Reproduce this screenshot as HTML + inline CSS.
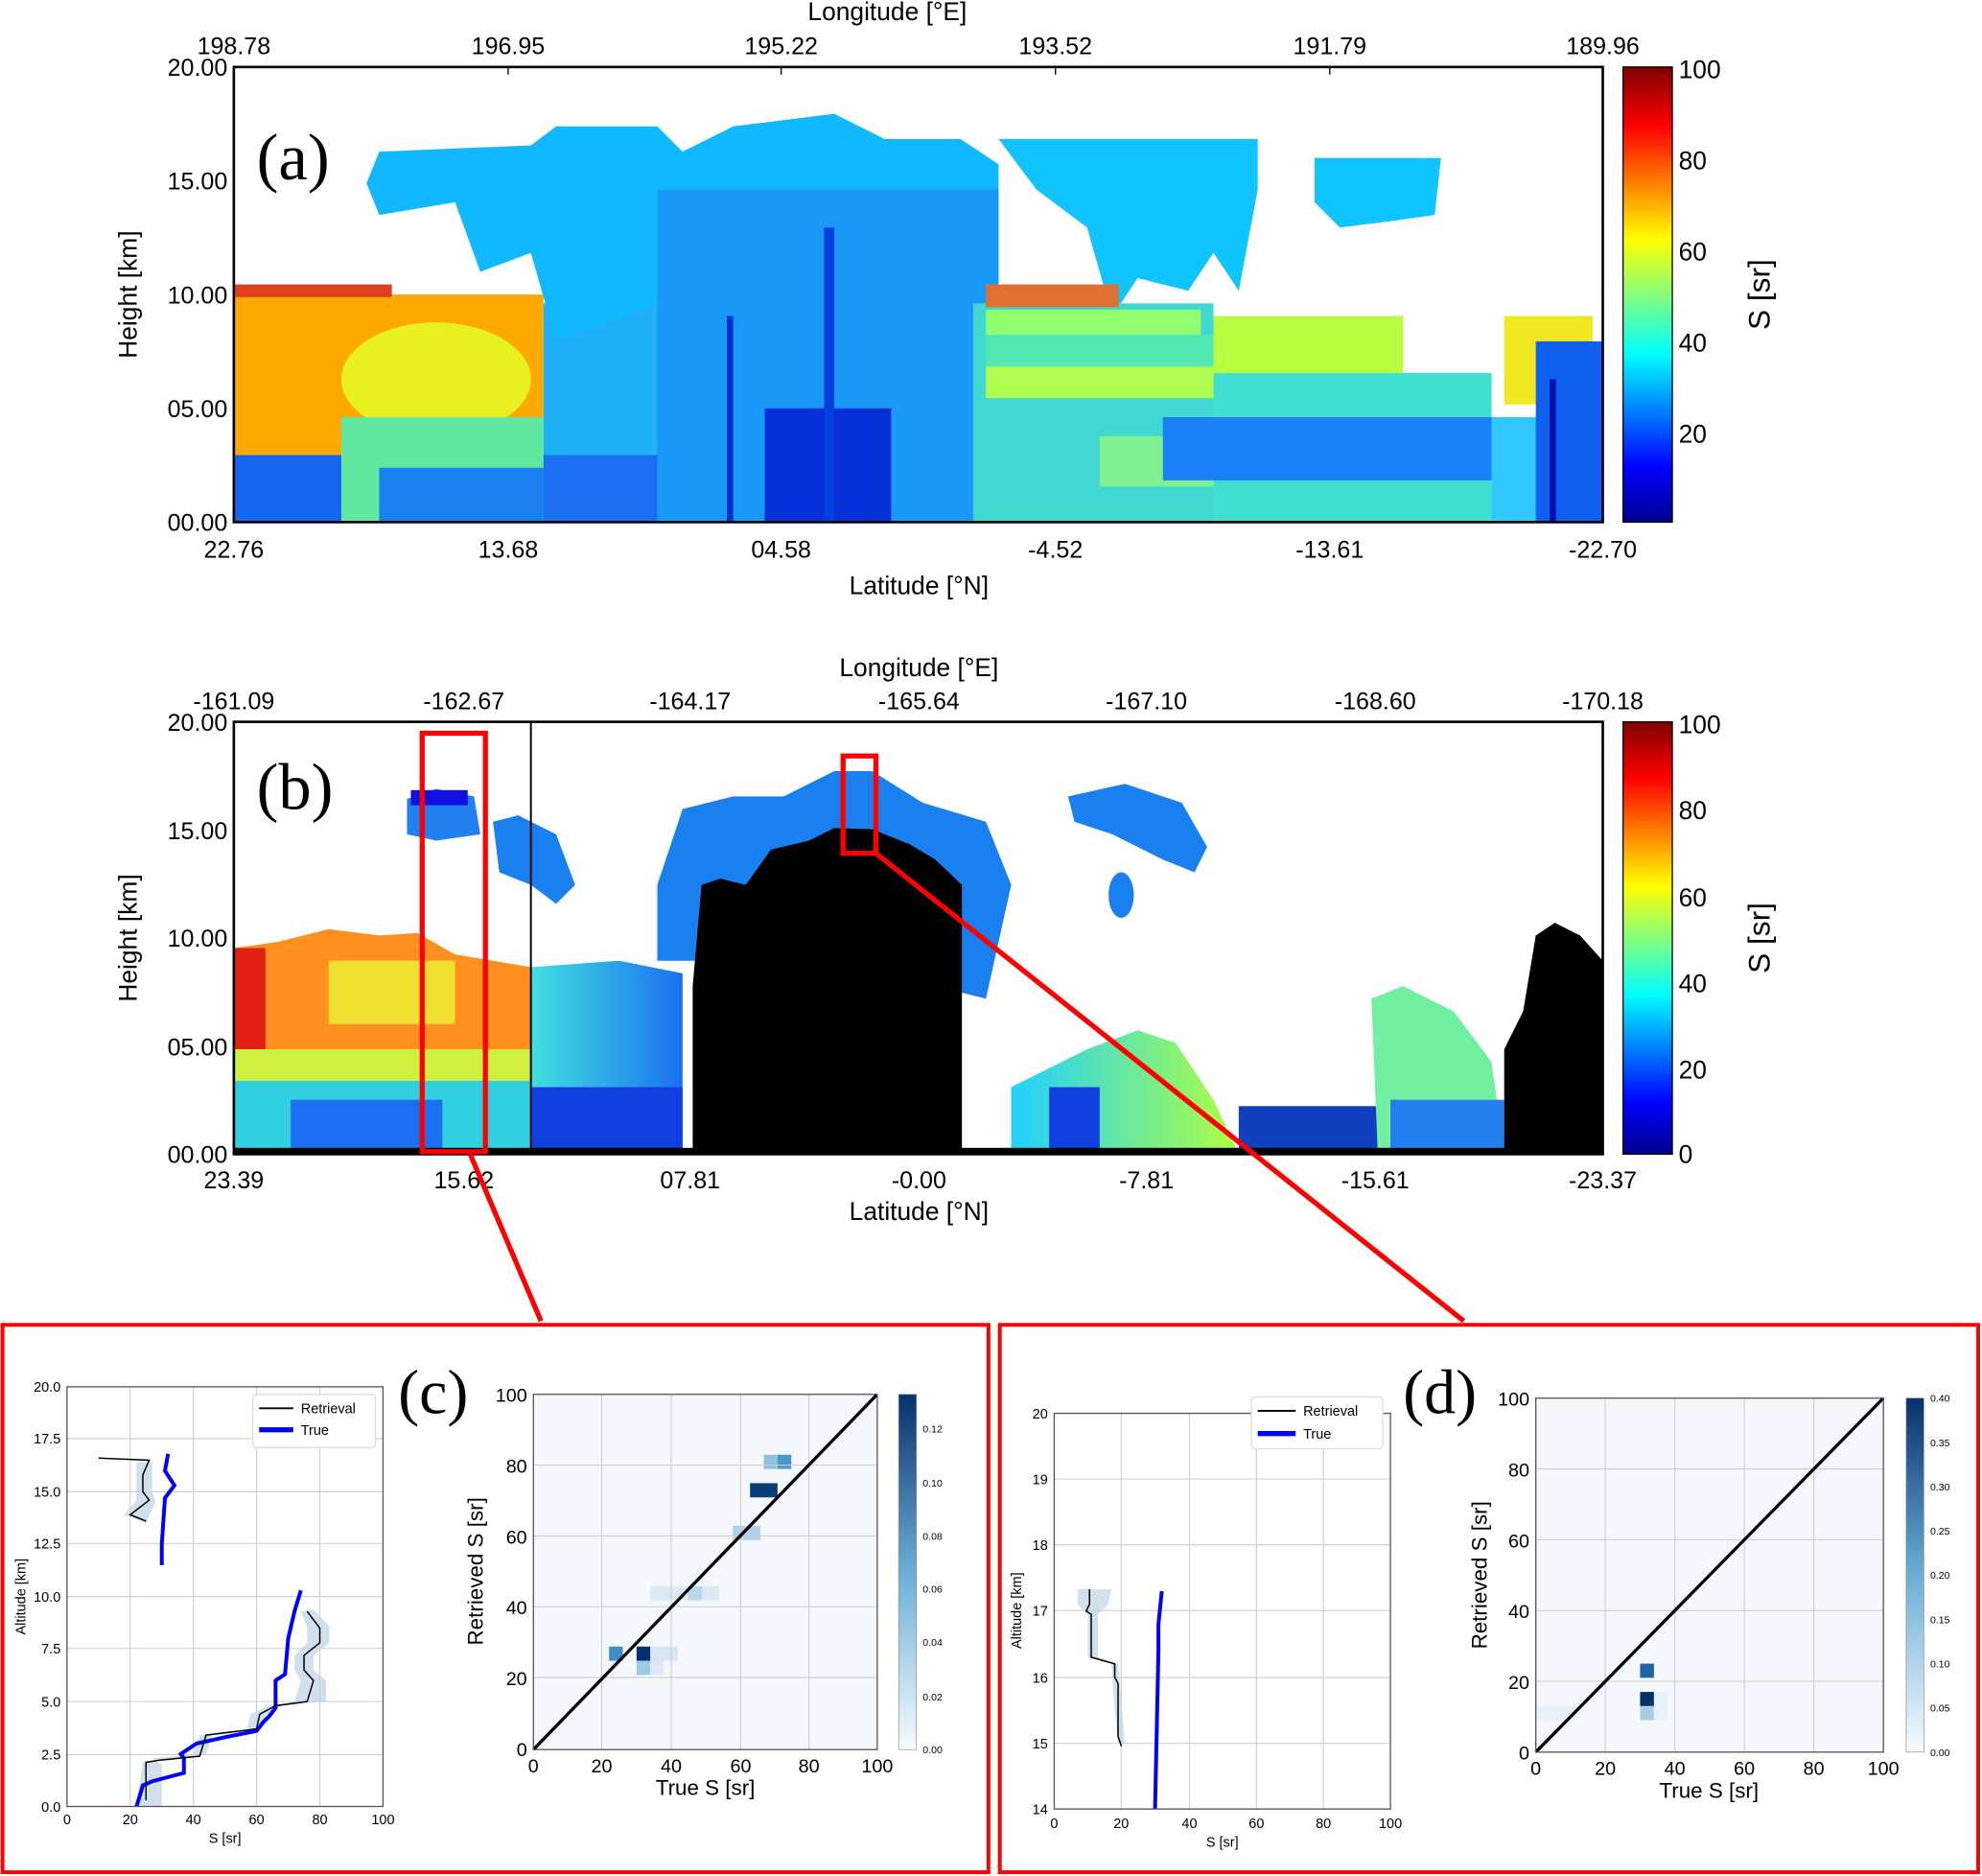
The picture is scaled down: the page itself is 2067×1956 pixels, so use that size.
<!DOCTYPE html>
<html><head><meta charset="utf-8"><style>
html,body{margin:0;padding:0;background:#fff}
svg{display:block}
text{font-family:"Liberation Sans",sans-serif;fill:#000}
.t{font-size:19px}
.s{font-size:11px}
.xs{font-size:8px}
.l{font-size:20px}
.serif{font-family:"Liberation Serif",serif}
</style></head><body>
<svg width="2067" height="1956" viewBox="0 0 1568 1484" preserveAspectRatio="none" xmlns="http://www.w3.org/2000/svg">
<defs>
<linearGradient id="jet" x1="0" y1="1" x2="0" y2="0">
<stop offset="0" stop-color="#00008f"/><stop offset="0.12" stop-color="#0000ff"/><stop offset="0.37" stop-color="#00ffff"/><stop offset="0.62" stop-color="#ffff00"/><stop offset="0.87" stop-color="#ff0000"/><stop offset="1" stop-color="#800000"/></linearGradient>
<linearGradient id="blues" x1="0" y1="1" x2="0" y2="0">
<stop offset="0" stop-color="#f7fbff"/><stop offset="0.5" stop-color="#6baed6"/><stop offset="1" stop-color="#08306b"/></linearGradient>
<linearGradient id="gb" x1="0" y1="0" x2="1" y2="0"><stop offset="0" stop-color="#20d0ff"/><stop offset="1" stop-color="#b0ff40"/></linearGradient>
<linearGradient id="lb" x1="0" y1="0" x2="1" y2="0"><stop offset="0" stop-color="#40e0e0"/><stop offset="1" stop-color="#1a70f0"/></linearGradient>
</defs>

<!-- ===== Panel (a) ===== -->
<g>
<rect x="185" y="233" width="245" height="127" fill="#ffa800"/>
<ellipse cx="345" cy="300" rx="75" ry="45" fill="#e8f020"/>
<rect x="185" y="360" width="90" height="53" fill="#1565f0"/>
<rect x="270" y="330" width="160" height="83" fill="#60e8a0"/>
<rect x="300" y="370" width="130" height="43" fill="#1a80f0"/>
<rect x="430" y="240" width="100" height="173" fill="#20b0f8"/>
<rect x="430" y="360" width="100" height="53" fill="#1a70f0"/>
<polygon points="290,145 300,120 420,115 440,100 520,100 540,120 580,100 660,90 700,110 760,110 790,130 790,413 520,413 520,240 440,270 420,200 380,215 360,160 300,170" fill="#10b8ff"/>
<rect x="520" y="150" width="270" height="263" fill="#1a98f8"/>
<rect x="605" y="323" width="100" height="90" fill="#0530d8"/>
<rect x="652" y="180" width="8" height="233" fill="#0040e0"/>
<rect x="575" y="250" width="5" height="163" fill="#0030d0"/>
<polygon points="790,110 995,110 995,150 980,230 960,200 940,230 900,220 880,250 860,180 820,150" fill="#10c4ff"/>
<polygon points="1040,125 1140,125 1135,170 1100,175 1060,180 1040,160" fill="#10c4ff"/>
<rect x="770" y="240" width="190" height="173" fill="#40d8d0"/>
<rect x="780" y="245" width="170" height="20" fill="#90ff70"/>
<rect x="780" y="265" width="180" height="25" fill="#50e8b0"/>
<rect x="780" y="290" width="180" height="25" fill="#b0ff50"/>
<rect x="870" y="345" width="90" height="40" fill="#80f090"/>
<rect x="780" y="225" width="105" height="18" fill="#e07030"/>
<rect x="960" y="250" width="150" height="45" fill="#b8ff40"/>
<rect x="960" y="295" width="220" height="118" fill="#40e0d0"/>
<rect x="920" y="330" width="280" height="50" fill="#1a80f8"/>
<rect x="1180" y="330" width="40" height="83" fill="#30c8ff"/>
<rect x="1190" y="250" width="70" height="70" fill="#f0e820"/>
<rect x="1215" y="270" width="53" height="143" fill="#1060f0"/>
<rect x="1226" y="300" width="5" height="113" fill="#0010b0"/>
<rect x="185" y="225" width="125" height="10" fill="#e04020"/>
<rect x="185" y="53" width="1083" height="360" fill="none" stroke="#000" stroke-width="2"/>
<text x="203" y="142" class="serif" font-size="52">(a)</text>
<g class="t" text-anchor="end">
<text x="180" y="60">20.00</text><text x="180" y="150">15.00</text><text x="180" y="240">10.00</text><text x="180" y="330">05.00</text><text x="180" y="420">00.00</text></g>
<g class="t" text-anchor="middle">
<text x="185" y="441">22.76</text><text x="402" y="441">13.68</text><text x="618" y="441">04.58</text><text x="835" y="441">-4.52</text><text x="1052" y="441">-13.61</text><text x="1268" y="441">-22.70</text>
<text x="185" y="43">198.78</text><text x="402" y="43">196.95</text><text x="618" y="43">195.22</text><text x="835" y="43">193.52</text><text x="1052" y="43">191.79</text><text x="1268" y="43">189.96</text>
<text x="727" y="470" class="l">Latitude  [°N]</text>
<text x="702" y="16" class="l">Longitude  [°E]</text></g>
<g stroke="#000" stroke-width="1"><line x1="402" y1="53" x2="402" y2="59"/><line x1="618" y1="53" x2="618" y2="59"/><line x1="835" y1="53" x2="835" y2="59"/><line x1="1052" y1="53" x2="1052" y2="59"/></g>
<text transform="translate(108,233) rotate(-90)" class="l" text-anchor="middle">Height [km]</text>
<rect x="1284" y="53" width="39" height="360" fill="url(#jet)" stroke="#000"/>
<g class="l"><text x="1328" y="62">100</text><text x="1328" y="134">80</text><text x="1328" y="206">60</text><text x="1328" y="278">40</text><text x="1328" y="350">20</text></g>
<text transform="translate(1400,233) rotate(-90)" font-size="24" text-anchor="middle">S [sr]</text>
</g>

<!-- ===== Panel (b) ===== -->
<g>
<polygon points="185,750 220,745 260,735 300,740 330,738 360,755 420,765 420,913 185,913" fill="#ff9020"/>
<rect x="185" y="750" width="25" height="80" fill="#e02010"/>
<rect x="260" y="760" width="100" height="50" fill="#f0e030"/>
<rect x="185" y="830" width="235" height="30" fill="#d0f040"/>
<rect x="185" y="855" width="235" height="58" fill="#30d0e0"/>
<rect x="230" y="870" width="120" height="40" fill="#1a70f0"/>
<polygon points="420,765 490,760 540,770 540,913 420,913" fill="url(#lb)"/>
<rect x="420" y="860" width="120" height="53" fill="#1040e0"/>
<polygon points="322,632 345,624 375,630 380,660 345,665 322,660" fill="#2080f0"/>
<rect x="325" y="625" width="45" height="12" fill="#1010e0"/>
<polygon points="390,650 410,645 440,660 455,700 440,715 420,700 395,690" fill="#1a80f0"/>
<polygon points="520,700 540,640 580,630 620,630 660,610 690,610 730,635 780,650 800,700 780,790 700,770 560,760 520,760" fill="#1a80f0"/>
<polygon points="548,913 548,780 555,700 570,695 590,700 610,672 640,665 660,655 690,656 720,668 740,680 761,700 761,913" fill="#000"/>
<polygon points="845,630 890,620 935,635 955,670 945,690 920,680 880,660 850,650" fill="#1a80f0"/>
<ellipse cx="887" cy="708" rx="10" ry="18" fill="#1a80f0"/>
<polygon points="800,860 860,830 900,815 930,825 960,870 980,913 800,913" fill="url(#gb)"/>
<rect x="830" y="860" width="40" height="53" fill="#1040e0"/>
<rect x="980" y="875" width="110" height="38" fill="#1040c0"/>
<polygon points="1085,790 1110,780 1150,800 1180,840 1190,913 1090,913" fill="#70f0a0"/>
<rect x="1100" y="870" width="90" height="43" fill="#2080f0"/>
<polygon points="1190,830 1205,800 1215,740 1230,730 1250,740 1268,760 1268,913 1190,913" fill="#000"/>
<rect x="185" y="908" width="1083" height="5" fill="#000"/>
<line x1="420" y1="571" x2="420" y2="913" stroke="#000" stroke-width="1.5"/>
<rect x="185" y="571" width="1083" height="342" fill="none" stroke="#000" stroke-width="2"/>
<text x="203" y="640" class="serif" font-size="52">(b)</text>
<g class="t" text-anchor="end">
<text x="180" y="578">20.00</text><text x="180" y="664">15.00</text><text x="180" y="749">10.00</text><text x="180" y="835">05.00</text><text x="180" y="920">00.00</text></g>
<g class="t" text-anchor="middle">
<text x="185" y="940">23.39</text><text x="367" y="940">15.62</text><text x="546" y="940">07.81</text><text x="727" y="940">-0.00</text><text x="907" y="940">-7.81</text><text x="1088" y="940">-15.61</text><text x="1268" y="940">-23.37</text>
<text x="185" y="561">-161.09</text><text x="367" y="561">-162.67</text><text x="546" y="561">-164.17</text><text x="727" y="561">-165.64</text><text x="907" y="561">-167.10</text><text x="1088" y="561">-168.60</text><text x="1268" y="561">-170.18</text>
<text x="727" y="965" class="l">Latitude  [°N]</text>
<text x="727" y="535" class="l">Longitude  [°E]</text></g>
<text transform="translate(108,742) rotate(-90)" class="l" text-anchor="middle">Height [km]</text>
<rect x="1284" y="571" width="39" height="342" fill="url(#jet)" stroke="#000"/>
<g class="l"><text x="1328" y="580">100</text><text x="1328" y="648">80</text><text x="1328" y="717">60</text><text x="1328" y="785">40</text><text x="1328" y="853">20</text><text x="1328" y="920">0</text></g>
<text transform="translate(1400,742) rotate(-90)" font-size="24" text-anchor="middle">S [sr]</text>
<g fill="none" stroke="#f00" stroke-width="4">
<rect x="334" y="580" width="50" height="331"/>
<rect x="667" y="598" width="26" height="77"/>
<line x1="372" y1="913" x2="428" y2="1045"/>
<line x1="693" y1="675" x2="1158" y2="1045"/>
</g>
</g>

<rect x="2" y="1048" width="780" height="433" fill="none" stroke="#f00" stroke-width="3"/>
<rect x="791" y="1048" width="774" height="433" fill="none" stroke="#f00" stroke-width="3"/>

<!-- profile c -->
<g>
<g stroke="#ccc" stroke-width="0.8">
<line x1="103" y1="1097" x2="103" y2="1429"/><line x1="153" y1="1097" x2="153" y2="1429"/><line x1="203" y1="1097" x2="203" y2="1429"/><line x1="253" y1="1097" x2="253" y2="1429"/>
<line x1="53" y1="1138" x2="303" y2="1138"/><line x1="53" y1="1180" x2="303" y2="1180"/><line x1="53" y1="1221" x2="303" y2="1221"/><line x1="53" y1="1263" x2="303" y2="1263"/><line x1="53" y1="1304" x2="303" y2="1304"/><line x1="53" y1="1346" x2="303" y2="1346"/><line x1="53" y1="1388" x2="303" y2="1388"/>
</g>
<g transform="translate(53,1429) scale(2.5,-16.6)">
<polygon points="22,0 30,0 30,2 27,2.3 44,2.5 46,3.4 57,3.7 62,3.8 63,4.4 68,4.8 82,5 82,6 78,6.5 78,7.2 83,7.8 83,8.6 78,9.4 74,9.3 76,8.5 76,7.8 72,7.2 72,6.5 74,6 72,5 64,4.8 58,4.4 57,3.7 52,3.6 42,3.4 40,2.4 24,2.1 22,0" fill="#bcd4e6" opacity="0.7"/>
<polygon points="22,16.4 27,16.4 27,15 28,14.5 25,13.5 18,13.9 22,14.6 22,15.8" fill="#bcd4e6" opacity="0.7"/>
<polyline points="32,16.8 31,16 34,15.3 31,14.7 30,12.5 30,11.5" fill="none" stroke="#00f" stroke-width="4" vector-effect="non-scaling-stroke"/>
<polyline points="22,0 24,1 27,1.2 37,1.6 37,2.3 36,2.5 38,2.7 41,3 50,3.3 60,3.6 62,4 64,4.3 66,4.7 66,6 69,6.3 70,8 72,9.3 74,10.3" fill="none" stroke="#00f" stroke-width="4" vector-effect="non-scaling-stroke"/>
<polyline points="10,16.6 26,16.5 24,15.8 24,15 26,14.6 20,13.9 25,13.6" fill="none" stroke="#000" stroke-width="1.5" vector-effect="non-scaling-stroke"/>
<polyline points="25,0.3 25,2.1 29,2.2 42,2.4 44,3.4 55,3.6 60,3.7 61,4.4 66,4.8 76,5 78,6 75,6.5 75,7.2 80,7.8 80,8.5 76,9.3" fill="none" stroke="#000" stroke-width="1.5" vector-effect="non-scaling-stroke"/>
</g>
<rect x="53" y="1097" width="250" height="332" fill="none" stroke="#555" stroke-width="1"/>
<g class="s" text-anchor="end"><text x="48" y="1101">20.0</text><text x="48" y="1142">17.5</text><text x="48" y="1184">15.0</text><text x="48" y="1225">12.5</text><text x="48" y="1267">10.0</text><text x="48" y="1308">7.5</text><text x="48" y="1350">5.0</text><text x="48" y="1392">2.5</text><text x="48" y="1433">0.0</text></g>
<g class="s" text-anchor="middle"><text x="53" y="1443">0</text><text x="103" y="1443">20</text><text x="153" y="1443">40</text><text x="203" y="1443">60</text><text x="253" y="1443">80</text><text x="303" y="1443">100</text><text x="178" y="1458">S [sr]</text></g>
<text transform="translate(20,1263) rotate(-90)" class="s" text-anchor="middle">Altitude [km]</text>
<rect x="200" y="1103" width="97" height="42" fill="#fff" stroke="#ddd" rx="3"/>
<line x1="205" y1="1114" x2="232" y2="1114" stroke="#000" stroke-width="1.5"/>
<line x1="205" y1="1131" x2="232" y2="1131" stroke="#00f" stroke-width="4"/>
<text x="238" y="1118" class="s">Retrieval</text><text x="238" y="1135" class="s">True</text>
</g>

<!-- scatter c -->
<g>
<rect x="422" y="1103" width="272" height="281" fill="#f4f8fd"/>
<g transform="translate(422,1384) scale(2.72,-2.81)">
<rect x="67" y="79" width="4" height="4" fill="#8fc0e0"/><rect x="71" y="79" width="4" height="4" fill="#4a98c9"/>
<rect x="63" y="71" width="8" height="4" fill="#0a3d78"/>
<rect x="58" y="59" width="8" height="4" fill="#b0d2e8"/>
<rect x="34" y="42" width="20" height="4" fill="#dbe9f6"/><rect x="45" y="42" width="4" height="4" fill="#bcd7ec"/>
<rect x="22" y="25" width="4" height="4" fill="#3f8fc5"/><rect x="30" y="25" width="4" height="4" fill="#08306b"/>
<rect x="34" y="25" width="8" height="4" fill="#d6e6f4"/>
<rect x="30" y="21" width="4" height="4" fill="#9ecae1"/><rect x="34" y="21" width="4" height="4" fill="#dbe9f6"/>
</g>
<g stroke="#ccc" stroke-width="0.8"><line x1="476" y1="1103" x2="476" y2="1384"/><line x1="531" y1="1103" x2="531" y2="1384"/><line x1="586" y1="1103" x2="586" y2="1384"/><line x1="640" y1="1103" x2="640" y2="1384"/><line x1="422" y1="1159" x2="694" y2="1159"/><line x1="422" y1="1215" x2="694" y2="1215"/><line x1="422" y1="1271" x2="694" y2="1271"/><line x1="422" y1="1327" x2="694" y2="1327"/></g>
<line x1="422" y1="1384" x2="694" y2="1103" stroke="#000" stroke-width="2.5"/>
<rect x="422" y="1103" width="272" height="281" fill="none" stroke="#555"/>
<g font-size="15" text-anchor="end"><text x="417" y="1109">100</text><text x="417" y="1165">80</text><text x="417" y="1221">60</text><text x="417" y="1277">40</text><text x="417" y="1333">20</text><text x="417" y="1389">0</text></g>
<g font-size="15" text-anchor="middle"><text x="422" y="1402">0</text><text x="476" y="1402">20</text><text x="531" y="1402">40</text><text x="586" y="1402">60</text><text x="640" y="1402">80</text><text x="694" y="1402">100</text><text x="558" y="1420" font-size="17">True S [sr]</text></g>
<text transform="translate(382,1243) rotate(-90)" font-size="17" text-anchor="middle">Retrieved S [sr]</text>
<rect x="711" y="1103" width="14" height="281" fill="url(#blues)" stroke="#888" stroke-width="0.5"/>
<g class="xs"><text x="730" y="1387">0.00</text><text x="730" y="1345">0.02</text><text x="730" y="1302">0.04</text><text x="730" y="1260">0.06</text><text x="730" y="1218">0.08</text><text x="730" y="1176">0.10</text><text x="730" y="1133">0.12</text></g>
<text x="315" y="1118" class="serif" font-size="50">(c)</text>
</g>

<!-- profile d -->
<g>
<g stroke="#ccc" stroke-width="0.8">
<line x1="887" y1="1118" x2="887" y2="1431"/><line x1="941" y1="1118" x2="941" y2="1431"/><line x1="994" y1="1118" x2="994" y2="1431"/><line x1="1047" y1="1118" x2="1047" y2="1431"/>
<line x1="834" y1="1170" x2="1100" y2="1170"/><line x1="834" y1="1222" x2="1100" y2="1222"/><line x1="834" y1="1274" x2="1100" y2="1274"/><line x1="834" y1="1327" x2="1100" y2="1327"/><line x1="834" y1="1379" x2="1100" y2="1379"/>
</g>
<g transform="translate(834,2161.8) scale(2.66,-52.2)">
<polygon points="7,17.33 17,17.33 16,17.1 13,16.95 13,16.3 19,16.2 21,15 19,15 18,15.5 17,16.2 10,16.3 10,16.95 7,17.1" fill="#bcd4e6" opacity="0.7"/>
<polyline points="30,14 31,16.4 31,16.8 32,17.3" fill="none" stroke="#00f" stroke-width="4" vector-effect="non-scaling-stroke"/>
<polyline points="20,14.95 19,15.1 19,15.9 18,16 18,16.2 11,16.3 11,16.95 9.5,17 10.5,17.1 10.5,17.33" fill="none" stroke="#000" stroke-width="1.5" vector-effect="non-scaling-stroke"/>
</g>
<rect x="834" y="1118" width="266" height="313" fill="none" stroke="#555"/>
<g class="s" text-anchor="end"><text x="829" y="1122">20</text><text x="829" y="1174">19</text><text x="829" y="1226">18</text><text x="829" y="1278">17</text><text x="829" y="1331">16</text><text x="829" y="1383">15</text><text x="829" y="1435">14</text></g>
<g class="s" text-anchor="middle"><text x="834" y="1446">0</text><text x="887" y="1446">20</text><text x="941" y="1446">40</text><text x="994" y="1446">60</text><text x="1047" y="1446">80</text><text x="1100" y="1446">100</text><text x="967" y="1461">S [sr]</text></g>
<text transform="translate(808,1274) rotate(-90)" class="s" text-anchor="middle">Altitude [km]</text>
<rect x="990" y="1105" width="104" height="41" fill="#fff" stroke="#ddd" rx="3"/>
<line x1="995" y1="1116" x2="1025" y2="1116" stroke="#000" stroke-width="1.5"/>
<line x1="995" y1="1134" x2="1025" y2="1134" stroke="#00f" stroke-width="4"/>
<text x="1031" y="1120" class="s">Retrieval</text><text x="1031" y="1138" class="s">True</text>
</g>

<!-- scatter d -->
<g>
<rect x="1215" y="1106" width="275" height="280" fill="#f4f8fd"/>
<g transform="translate(1215,1386) scale(2.75,-2.8)">
<rect x="30" y="21" width="4" height="4" fill="#1f63a8"/>
<rect x="30" y="13" width="4" height="4" fill="#08306b"/>
<rect x="30" y="9" width="4" height="4" fill="#a9cde5"/>
<rect x="34" y="9" width="4" height="8" fill="#e8f1fa"/>
<rect x="0" y="9" width="12" height="4" fill="#e8f1fa"/>
</g>
<g stroke="#ccc" stroke-width="0.8"><line x1="1270" y1="1106" x2="1270" y2="1386"/><line x1="1325" y1="1106" x2="1325" y2="1386"/><line x1="1380" y1="1106" x2="1380" y2="1386"/><line x1="1435" y1="1106" x2="1435" y2="1386"/><line x1="1215" y1="1162" x2="1490" y2="1162"/><line x1="1215" y1="1218" x2="1490" y2="1218"/><line x1="1215" y1="1274" x2="1490" y2="1274"/><line x1="1215" y1="1330" x2="1490" y2="1330"/></g>
<line x1="1215" y1="1386" x2="1490" y2="1106" stroke="#000" stroke-width="2.5"/>
<rect x="1215" y="1106" width="275" height="280" fill="none" stroke="#555"/>
<g font-size="15" text-anchor="end"><text x="1210" y="1112">100</text><text x="1210" y="1168">80</text><text x="1210" y="1224">60</text><text x="1210" y="1280">40</text><text x="1210" y="1336">20</text><text x="1210" y="1392">0</text></g>
<g font-size="15" text-anchor="middle"><text x="1215" y="1404">0</text><text x="1270" y="1404">20</text><text x="1325" y="1404">40</text><text x="1380" y="1404">60</text><text x="1435" y="1404">80</text><text x="1490" y="1404">100</text><text x="1352" y="1422" font-size="17">True S [sr]</text></g>
<text transform="translate(1176,1246) rotate(-90)" font-size="17" text-anchor="middle">Retrieved S [sr]</text>
<rect x="1508" y="1106" width="14" height="280" fill="url(#blues)" stroke="#888" stroke-width="0.5"/>
<g class="xs"><text x="1527" y="1389">0.00</text><text x="1527" y="1354">0.05</text><text x="1527" y="1319">0.10</text><text x="1527" y="1284">0.15</text><text x="1527" y="1249">0.20</text><text x="1527" y="1214">0.25</text><text x="1527" y="1179">0.30</text><text x="1527" y="1144">0.35</text><text x="1527" y="1109">0.40</text></g>
<text x="1110" y="1118" class="serif" font-size="50">(d)</text>
</g>
</svg>
</body></html>
